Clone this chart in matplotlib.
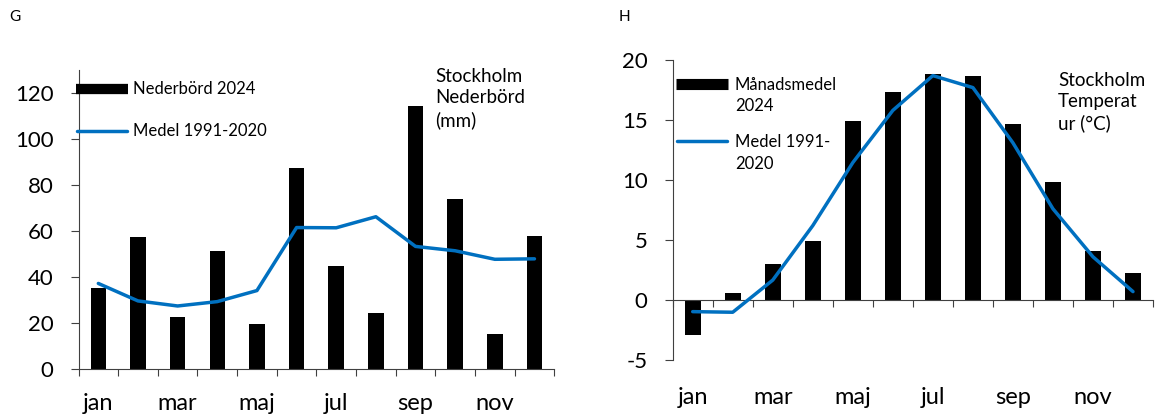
import matplotlib
matplotlib.use("Agg")
import matplotlib.pyplot as plt
from matplotlib.lines import Line2D
import numpy as np

plt.rcParams['font.family'] = ['Lato', 'DejaVu Sans']

months = ['jan', 'feb', 'mar', 'apr', 'maj', 'jun', 'jul', 'aug', 'sep', 'okt', 'nov', 'dec']

precip_2024 = [35.1, 57.5, 22.6, 51.4, 19.6, 87.4, 44.7, 24.2, 114.4, 74.0, 15.4, 57.8]
precip_normal = [37.2, 29.6, 27.4, 29.3, 34.1, 61.5, 61.4, 66.2, 53.3, 51.4, 47.7, 47.9]

temp_2024 = [-2.9, 0.58, 2.98, 4.91, 14.9, 17.3, 18.8, 18.7, 14.7, 9.8, 4.08, 2.29]
temp_normal = [-0.97, -1.02, 1.66, 6.2, 11.45, 15.8, 18.7, 17.7, 13.1, 7.6, 3.6, 0.7]

precip_yticks = [0, 20, 40, 60, 80, 100, 120]
temp_yticks = [-5, 0, 5, 10, 15, 20]

W, H = 1158, 420
BLUE = '#0070C0'
SPINE = '#404040'

fig = plt.figure(figsize=(W / 100, H / 100), dpi=100)


def fx(x):
    return x / W


def fy(y):
    return 1 - y / H


x = np.arange(len(months))
bw = 0.39


def style_axes(ax, ymin, ymax, yticks):
    ax.set_xlim(-0.5, len(months) - 0.5)
    ax.set_ylim(ymin, ymax)
    for s in ['top', 'right']:
        ax.spines[s].set_visible(False)
    for s in ['left', 'bottom']:
        ax.spines[s].set_color(SPINE)
        ax.spines[s].set_linewidth(0.8)
    ax.set_yticks(yticks)
    ax.set_yticklabels([str(v) for v in yticks])
    ax.tick_params(axis='y', direction='out', length=6, width=0.8, color=SPINE,
                   pad=12, labelsize=16)
    ax.set_xticks(np.arange(len(months) + 1) - 0.5)
    ax.set_xticklabels([])
    ax.tick_params(axis='x', direction='out', length=5, width=0.8, color=SPINE)
    ax.set_facecolor('none')


def month_labels(ax, yaxes):
    tr = ax.get_xaxis_transform()
    for i, m in enumerate(months):
        if i % 2 == 0:
            ax.text(i, yaxes, m, transform=tr, ha='center', va='center', fontsize=17)


# ---------- Left: precipitation ----------
ax1 = fig.add_axes([fx(78.5), fy(369), fx(554.3 - 78.5), (369 - 70) / H])
ax1.bar(x, precip_2024, width=bw, color='black', zorder=2)
ax1.plot(x, precip_normal, color=BLUE, lw=2.5, solid_capstyle='round',
         solid_joinstyle='round', zorder=3)
style_axes(ax1, 0, 130, precip_yticks)
month_labels(ax1, (369 - 404) / 299)

# ---------- Right: temperature ----------
ax2 = fig.add_axes([fx(672.7), fy(360), fx(1153 - 672.7), 300 / H])
ax2.bar(x, temp_2024, width=bw, color='black', zorder=2)
ax2.plot(x, temp_normal, color=BLUE, lw=2.5, solid_capstyle='round',
         solid_joinstyle='round', zorder=3)
style_axes(ax2, -5, 20, temp_yticks)
ax2.spines['bottom'].set_position(('data', 0))
month_labels(ax2, (360 - 398) / 300)

# ---------- Legends (drawn manually to mimic layout) ----------
def legend_line(x0, x1, y, color, lw, cap):
    fig.add_artist(Line2D([fx(x0), fx(x1)], [fy(y), fy(y)], transform=fig.transFigure,
                          color=color, lw=lw, solid_capstyle=cap))

legend_fs = 12
legend_line(76, 128, 89, 'black', 7.4, 'butt')
fig.text(fx(133), fy(89), 'Nederbörd 2024', ha='left', va='center', fontsize=legend_fs)
legend_line(77, 127, 131, BLUE, 2.5, 'round')
fig.text(fx(133), fy(131), 'Medel 1991-2020', ha='left', va='center', fontsize=legend_fs)

legend_line(676, 728, 83.5, 'black', 8, 'butt')
fig.text(fx(735), fy(95.5), 'Månadsmedel\n2024', ha='left', va='center',
         fontsize=legend_fs, linespacing=1.4)
legend_line(677, 727, 141, BLUE, 2.5, 'round')
fig.text(fx(735), fy(153), 'Medel 1991-\n2020', ha='left', va='center',
         fontsize=legend_fs, linespacing=1.4)

# ---------- Annotations ----------
fig.text(fx(435), fy(98.5), 'Stockholm\nNederbörd\n(mm)', ha='left', va='center',
         fontsize=13.5, linespacing=1.3)
fig.text(fx(1058), fy(102), 'Stockholm\nTemperat\nur (°C)', ha='left', va='center',
         fontsize=13.5, linespacing=1.3)

fig.text(fx(9), fy(17), 'G', ha='left', va='center', fontsize=11)
fig.text(fx(619), fy(17), 'H', ha='left', va='center', fontsize=11)

fig.savefig('out.png', dpi=100)
